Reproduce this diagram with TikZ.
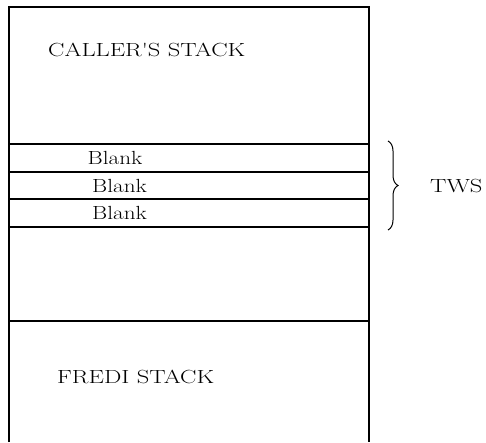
\documentclass[tikz,border=0pt]{standalone}
\usetikzlibrary{decorations.pathreplacing}
\newcommand{\widecap}[1]{\scalebox{1.29}[1]{#1}}
\newcommand{\wideblk}[1]{\scalebox{1.22}[1]{#1}}
\begin{document}
\begin{tikzpicture}[x=1pt,y=-1pt,
  wall/.style={line width=1.3pt},
  lbl/.style={inner sep=0pt,font=\fontsize{19}{22}\selectfont},
  blk/.style={inner sep=0pt,font=\fontsize{19}{22}\selectfont}]
\useasboundingbox (0,0) rectangle (486,442);
\coordinate (tl) at (9,7);
\coordinate (tr) at (369,7);
\coordinate (bl) at (9,442);
\coordinate (br) at (369,442);
\draw[wall] (bl) -- (tl) -- (tr) -- (br);
\foreach \y/\n in {144/a,172/b,199/c,227/d,321/e}{
  \coordinate (l\n) at (9,\y);
  \coordinate (r\n) at (369,\y);
  \draw[wall] (l\n) -- (r\n);
}
\node[lbl,anchor=west] (caller) at (48,50) {\widecap{CALLER\textquotesingle S STACK}};
\node[lbl,anchor=west] (fredi) at (57,377) {\widecap{FREDI STACK}};
\node[blk] (b1) at (115,158) {\wideblk{Blank}};
\node[blk] (b2) at (119.5,186) {\wideblk{Blank}};
\node[blk] (b3) at (119.5,213) {\wideblk{Blank}};
\coordinate (bt) at (388,141);
\coordinate (bb) at (388,230);
\draw[line width=1pt,decorate,decoration={brace,amplitude=10pt,raise=0pt}] (bt) -- (bb);
\node[blk,anchor=west] (tws) at (430,186) {\widecap{TWS}};
\end{tikzpicture}
\end{document}
